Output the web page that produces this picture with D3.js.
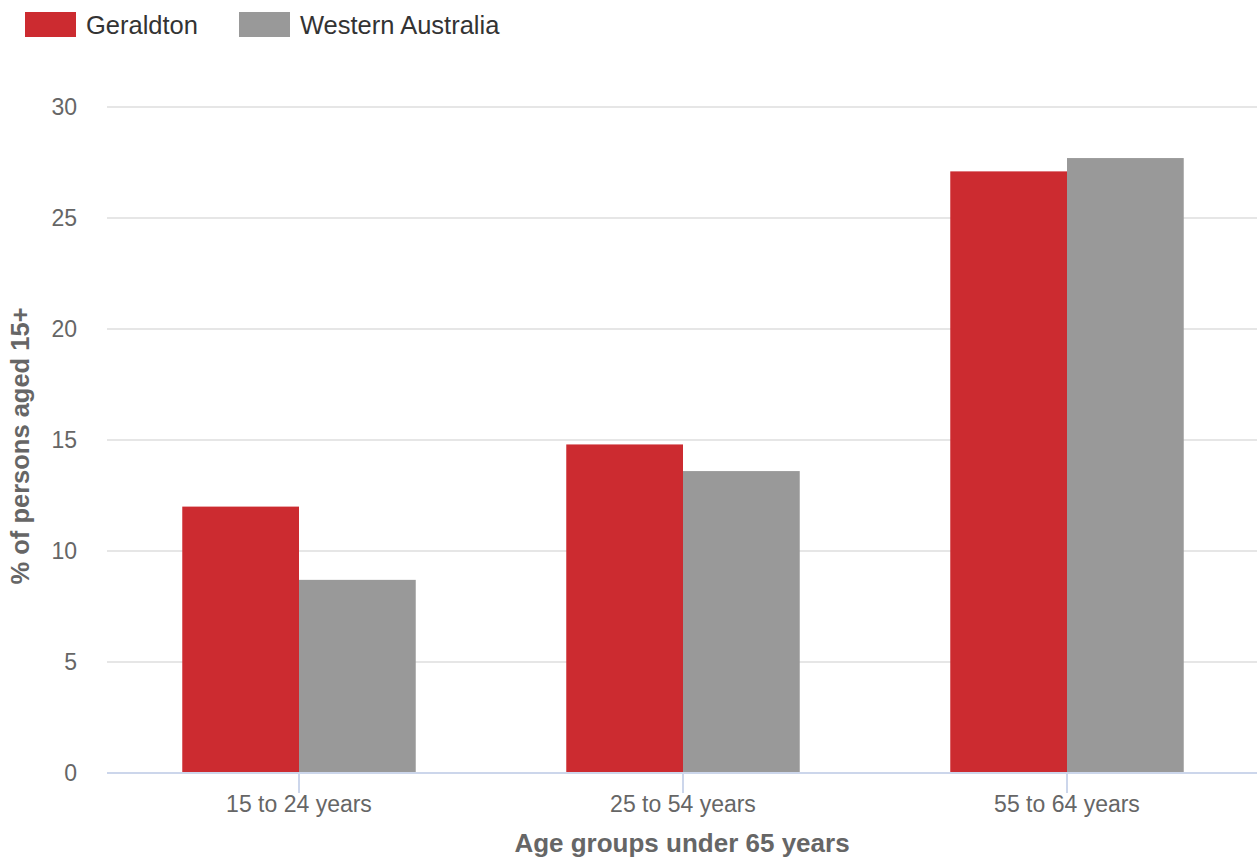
<!DOCTYPE html>
<html>
<head>
<meta charset="utf-8">
<script src="https://cdn.jsdelivr.net/npm/d3@7"></script>
<style>
  body { margin: 0; background: #fff; }
  svg { display: block; font-family: "Liberation Sans", Arial, sans-serif; }
</style>
</head>
<body>
<div id="chart"></div>
<script>
const categories = ["15 to 24 years", "25 to 54 years", "55 to 64 years"];
const seriesNames = ["Geraldton", "Western Australia"];
const geraldton = [12.0, 14.8, 27.1];
const westernAustralia = [8.7, 13.6, 27.7];
const yTicks = [0, 5, 10, 15, 20, 25, 30];
const colors = ["#cc2b30", "#999999"];

const width = 1257, height = 860;
const margin = { top: 107, left: 107, bottom: 87, right: 0 };

const svg = d3.select("#chart")
    .append("svg")
    .attr("width", width)
    .attr("height", height);

// bands run a little past the right edge, as in the original
const x0 = d3.scaleBand()
    .domain(categories)
    .range([margin.left, width + 2])
    .padding(0);

const x1 = d3.scaleBand()
    .domain(seriesNames)
    .range([x0.bandwidth() * 0.196, x0.bandwidth() * 0.804]);

const y = d3.scaleLinear()
    .domain([0, 30])
    .range([height - margin.bottom, margin.top]);

// gridlines
svg.append("g")
    .selectAll("line")
    .data(yTicks.filter(d => d > 0))
    .enter().append("line")
    .attr("x1", margin.left)
    .attr("x2", width - margin.right)
    .attr("y1", d => y(d))
    .attr("y2", d => y(d))
    .attr("stroke", "#e6e6e6")
    .attr("stroke-width", 2);

// y labels
svg.append("g")
    .selectAll("text")
    .data(yTicks)
    .enter().append("text")
    .attr("x", 77)
    .attr("y", d => y(d) + 8)
    .attr("text-anchor", "end")
    .attr("fill", "#666")
    .attr("font-size", 23)
    .text(d => d);

// bars
const data = categories.map((c, i) => ({
    category: c,
    values: [
        { name: seriesNames[0], value: geraldton[i] },
        { name: seriesNames[1], value: westernAustralia[i] }
    ]
}));

svg.append("g")
    .selectAll("g")
    .data(data)
    .enter().append("g")
    .attr("transform", d => `translate(${x0(d.category)},0)`)
    .selectAll("rect")
    .data(d => d.values)
    .enter().append("rect")
    .attr("x", d => x1(d.name))
    .attr("width", x1.bandwidth())
    .attr("y", d => y(d.value))
    .attr("height", d => y(0) - y(d.value))
    .attr("fill", (d, i) => colors[i]);

// x axis line and ticks
svg.append("line")
    .attr("x1", margin.left)
    .attr("x2", width - margin.right)
    .attr("y1", y(0))
    .attr("y2", y(0))
    .attr("stroke", "#ccd6eb")
    .attr("stroke-width", 2);

svg.append("g")
    .selectAll("line")
    .data(categories)
    .enter().append("line")
    .attr("x1", d => x0(d) + x0.bandwidth() / 2)
    .attr("x2", d => x0(d) + x0.bandwidth() / 2)
    .attr("y1", y(0))
    .attr("y2", y(0) + 20)
    .attr("stroke", "#ccd6eb")
    .attr("stroke-width", 2);

svg.append("g")
    .selectAll("text")
    .data(categories)
    .enter().append("text")
    .attr("x", d => x0(d) + x0.bandwidth() / 2)
    .attr("y", 812)
    .attr("text-anchor", "middle")
    .attr("fill", "#666")
    .attr("font-size", 23)
    .text(d => d);

// axis titles
svg.append("text")
    .attr("x", 682)
    .attr("y", 852)
    .attr("text-anchor", "middle")
    .attr("fill", "#666")
    .attr("font-size", 26)
    .attr("font-weight", "bold")
    .text("Age groups under 65 years");

svg.append("text")
    .attr("transform", `translate(29,${(y(0) + y(30)) / 2 + 6}) rotate(-90)`)
    .attr("text-anchor", "middle")
    .attr("fill", "#666")
    .attr("font-size", 25.5)
    .attr("font-weight", "bold")
    .text("% of persons aged 15+");

// legend
const legendX = [25, 239];
const legend = svg.append("g")
    .selectAll("g")
    .data(seriesNames)
    .enter().append("g")
    .attr("transform", (d, i) => `translate(${legendX[i]},12)`);

legend.append("rect")
    .attr("width", 51)
    .attr("height", 25)
    .attr("fill", (d, i) => colors[i]);

legend.append("text")
    .attr("x", 61)
    .attr("y", 22)
    .attr("fill", "#333")
    .attr("font-size", 25.5)
    .text(d => d);
</script>
</body>
</html>
